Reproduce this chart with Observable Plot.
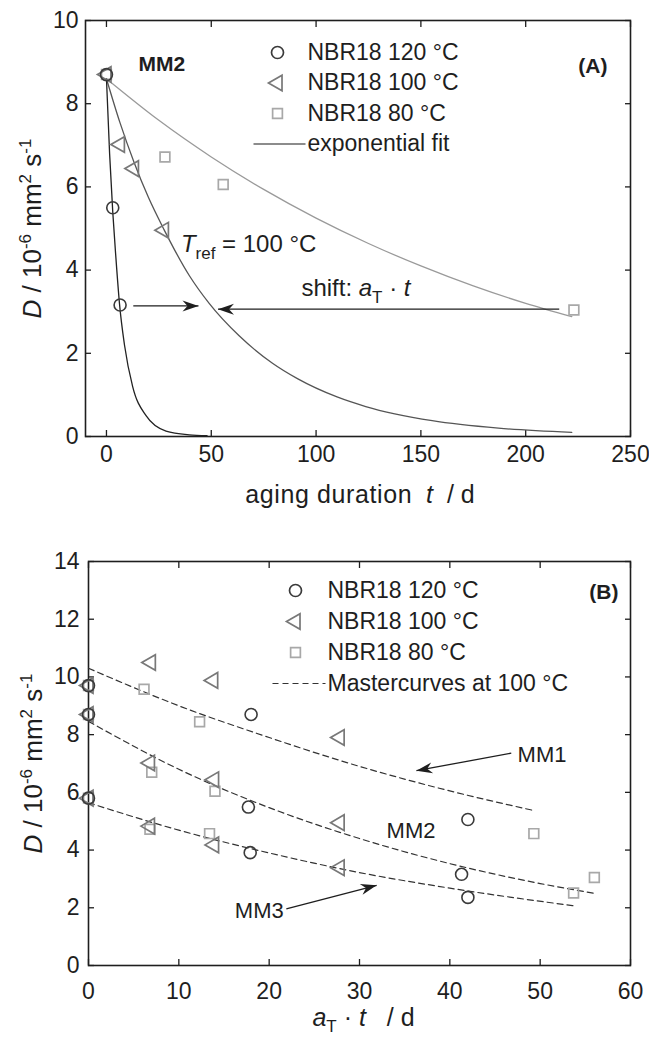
<!DOCTYPE html>
<html><head><meta charset="utf-8">
<script src="https://cdn.jsdelivr.net/npm/d3@7"></script>
<script src="https://cdn.jsdelivr.net/npm/@observablehq/plot@0.6"></script>
<style>
html,body{margin:0;padding:0;background:#fff;}
#chart{width:649px;}
#chart svg{display:block;}
</style></head>
<body><div id="chart"></div>
<script>
// ---------- Panel A: measured points ----------
const tA120 = [0, 3.0, 6.5];
const dA120 = [8.7, 5.5, 3.16];
const tA100 = [0, 6.4, 13.1, 27.4];
const dA100 = [8.7, 7.02, 6.44, 4.96];
const tA80 = [0, 27.9, 55.7, 223];
const dA80 = [8.7, 6.72, 6.06, 3.04];
// exponential fit curves
const fitA120T = [0, 1.5, 3, 4.5, 6.2, 8.6, 12.5, 18.9, 28.4, 39.5, 48];
const fitA120D = [8.6, 6.8, 5.4, 4.3, 3.2, 2.2, 1.2, 0.5, 0.13, 0.04, 0.02];
const fitA100T = [0, 6.4, 13.1, 20, 27.4, 39.5, 49, 63.3, 79.2, 91.1, 110, 123.7, 155.4, 187, 222];
const fitA100D = [8.6, 7.55, 6.6, 5.75, 4.98, 3.87, 3.2, 2.42, 1.76, 1.39, 0.95, 0.72, 0.38, 0.2, 0.1];
const fitA80T = [0, 25, 50, 75, 100, 125, 150, 175, 200, 222];
const fitA80D = [8.6, 7.6, 6.72, 5.94, 5.25, 4.64, 4.1, 3.62, 3.2, 2.88];
const xTicksA = [0, 50, 100, 150, 200, 250];
const yTicksA = [0, 2, 4, 6, 8, 10];
const legendA = ["NBR18 120 °C", "NBR18 100 °C", "NBR18 80 °C", "exponential fit"];
const arrowsA = [
  {x1: 12.8, y1: 3.14, x2: 43.9, y2: 3.14},
  {x1: 216, y1: 3.06, x2: 53.2, y2: 3.06}
];
const labelsA = [
  {x: 35.5, y: 4.63, text: "Tref = 100 °C"},
  {x: 93, y: 3.57, text: "shift: aT · t"}
];

// ---------- Panel B: shifted points ----------
const xB120 = [0, 0, 0, 18.0, 17.7, 17.9, 42.0, 41.3, 42.0];
const dB120 = [9.7, 8.7, 5.8, 8.7, 5.49, 3.91, 5.06, 3.16, 2.36];
const xB100 = [0, 0, 0, 6.9, 13.8, 27.8, 6.8, 13.9, 27.8, 6.8, 13.9, 27.8];
const dB100 = [9.7, 8.7, 5.8, 10.5, 9.88, 7.9, 7.02, 6.44, 4.95, 4.83, 4.18, 3.39];
const xB80 = [0, 0, 0, 6.15, 12.3, 49.3, 7.0, 14.0, 56.0, 6.8, 13.4, 53.7];
const dB80 = [9.7, 8.7, 5.8, 9.57, 8.45, 4.57, 6.70, 6.04, 3.05, 4.72, 4.57, 2.51];
// master curves
const mm1X = [0, 10, 20, 30, 40, 49.3];
const mm1D = [10.3, 9.0, 7.9, 6.9, 6.05, 5.37];
const mm2X = [0, 10, 20, 30, 40, 50, 56];
const mm2D = [8.46, 6.8, 5.47, 4.4, 3.53, 2.84, 2.5];
const mm3X = [0, 10, 20, 30, 40, 53.7];
const mm3D = [5.64, 4.69, 3.9, 3.22, 2.68, 2.07];
const xTicksB = [0, 10, 20, 30, 40, 50, 60];
const yTicksB = [0, 2, 4, 6, 8, 10, 12, 14];
const legendB = ["NBR18 120 °C", "NBR18 100 °C", "NBR18 80 °C", "Mastercurves at 100 °C"];
const arrowsB = [
  {x1: 46.8, y1: 7.36, x2: 36.3, y2: 6.75},
  {x1: 21.9, y1: 1.96, x2: 31.9, y2: 2.78}
];
const labelsB = [
  {x: 47.5, y: 7.3, text: "MM1"},
  {x: 33, y: 4.66, text: "MM2"},
  {x: 16.2, y: 1.88, text: "MM3"}
];

// ---------- styling ----------
const font = "'Liberation Sans', Arial, Helvetica, sans-serif";
const ink = "#1e1e1e";
const c120 = "#3a3a3a", c100 = "#787878", c80 = "#a8a8a8";
const zip = (xs, ys) => xs.map((x, i) => ({x, y: ys[i]}));
const stealth = {draw(ctx) { ctx.moveTo(0, 0); ctx.lineTo(-16, -5.5); ctx.lineTo(-11, 0); ctx.lineTo(-16, 5.5); ctx.closePath(); }};
const hline = (h) => ({draw(ctx) { ctx.moveTo(-h, 0); ctx.lineTo(h, 0); }});

function frameAxes(xTicks, yTicks, xPad, yPad) {
  return [
    Plot.axisX({ticks: xTicks, tickSize: 0, tickPadding: xPad, label: null}),
    Plot.axisY({ticks: yTicks, tickSize: 0, tickPadding: yPad, label: null}),
    Plot.axisX({ticks: xTicks, anchor: "bottom", tickSize: -6, tickFormat: () => "", label: null, strokeWidth: 1.3}),
    Plot.axisX({ticks: xTicks, anchor: "top", tickSize: -6, tickFormat: () => "", label: null, strokeWidth: 1.3}),
    Plot.axisY({ticks: yTicks, anchor: "left", tickSize: -6, tickFormat: () => "", label: null, strokeWidth: 1.3}),
    Plot.axisY({ticks: yTicks, anchor: "right", tickSize: -6, tickFormat: () => "", label: null, strokeWidth: 1.3}),
    Plot.frame({stroke: ink, strokeWidth: 1.6})
  ];
}

function markers(p120, p100, p80) {
  return [
    Plot.dot(p80, {x: "x", y: "y", symbol: "square", r: 5.5, stroke: c80, strokeWidth: 1.7, fill: "none"}),
    Plot.dot(p100, {x: "x", y: "y", symbol: "triangle", rotate: -90, r: 5.8, stroke: c100, strokeWidth: 1.7, fill: "none"}),
    Plot.dot(p120, {x: "x", y: "y", symbol: "circle", r: 6, stroke: c120, strokeWidth: 1.6, fill: "none"})
  ];
}

function legend(labels, sx, tx, y0, step, lastSymbol) {
  const syms = [
    {symbol: "circle", r: 6, stroke: c120},
    {symbol: "triangle", r: 5.8, rotate: -90, stroke: c100},
    {symbol: "square", r: 5.5, stroke: c80}
  ];
  const marks = [];
  syms.forEach((s, i) => marks.push(Plot.dot([0], {frameAnchor: "top-left", dx: sx, dy: y0 + step * i, fill: "none", strokeWidth: 1.7, ...s})));
  marks.push(Plot.dot([0], {frameAnchor: "top-left", fill: "none", dy: y0 + step * 3, ...lastSymbol}));
  labels.forEach((t, i) => marks.push(Plot.text([t], {frameAnchor: "top-left", dx: tx, dy: y0 + step * i, textAnchor: "start", lineAnchor: "middle", fontSize: 23, fill: ink})));
  return marks;
}

function arrows(data, rot) {
  return [
    Plot.link(data, {x1: "x1", y1: "y1", x2: "x2", y2: "y2", stroke: ink, strokeWidth: 1.3}),
    Plot.dot(data, {x: "x2", y: "y2", symbol: stealth, rotate: (d, i) => rot ? rot[i] : 0, fill: ink, stroke: "none"})
  ];
}

function angles(p, data) {
  const sx = p.scale("x"), sy = p.scale("y");
  return data.map(a => Math.atan2(sy.apply(a.y2) - sy.apply(a.y1), sx.apply(a.x2) - sx.apply(a.x1)) * 180 / Math.PI);
}

const baseStyle = {fontFamily: font, fontSize: "23px", color: ink, background: "white", overflow: "visible"};

function plotA(rot) {
  return Plot.plot({
    width: 649, height: 515,
    marginLeft: 85, marginRight: 19, marginTop: 20, marginBottom: 79,
    style: baseStyle,
    x: {domain: [-10, 250]},
    y: {domain: [0, 10]},
    marks: [
      ...frameAxes(xTicksA, yTicksA, 9, 7),
      Plot.line(zip(fitA80T, fitA80D), {x: "x", y: "y", stroke: "#9a9a9a", strokeWidth: 1.3, curve: "monotone-x"}),
      Plot.line(zip(fitA100T, fitA100D), {x: "x", y: "y", stroke: "#555", strokeWidth: 1.3, curve: "monotone-x"}),
      Plot.line(zip(fitA120T, fitA120D), {x: "x", y: "y", stroke: "#222", strokeWidth: 1.3, curve: "monotone-x"}),
      ...markers(zip(tA120, dA120), zip(tA100, dA100), zip(tA80, dA80)),
      ...arrows(arrowsA, rot),
      Plot.text(labelsA, {x: "x", y: "y", text: "text", textAnchor: "start", lineAnchor: "middle", fontSize: 24, fill: ink}),
      ...legend(legendA, 192, 222, 32, 30.5, {dx: 194, symbol: hline(26), stroke: "#666", strokeWidth: 1.3}),
      Plot.text(["MM2"], {frameAnchor: "top-left", dx: 53, dy: 44, textAnchor: "start", lineAnchor: "middle", fontSize: 21, fontWeight: "bold", fill: ink}),
      Plot.text(["(A)"], {frameAnchor: "top-right", dx: -23, dy: 46, textAnchor: "end", lineAnchor: "middle", fontSize: 21, fontWeight: "bold", fill: ink}),
      Plot.text(["aging duration  t  / d"], {frameAnchor: "bottom", dx: 2, dy: 66, textAnchor: "middle", lineAnchor: "bottom", fontSize: 25, fill: ink}),
      Plot.text(["D / 10-6 mm2 s-1"], {frameAnchor: "left", dx: -53, rotate: -90, textAnchor: "middle", lineAnchor: "middle", fontSize: 26, fill: ink})
    ]
  });
}

function plotB(rot) {
  return Plot.plot({
    width: 649, height: 522,
    marginLeft: 88, marginRight: 19, marginTop: 46, marginBottom: 72,
    style: baseStyle,
    x: {domain: [0, 60]},
    y: {domain: [0, 14]},
    marks: [
      ...frameAxes(xTicksB, yTicksB, 17, 9),
      Plot.line(zip(mm1X, mm1D), {x: "x", y: "y", stroke: "#333", strokeWidth: 1.2, strokeDasharray: "6,4", curve: "monotone-x"}),
      Plot.line(zip(mm2X, mm2D), {x: "x", y: "y", stroke: "#333", strokeWidth: 1.2, strokeDasharray: "6,4", curve: "monotone-x"}),
      Plot.line(zip(mm3X, mm3D), {x: "x", y: "y", stroke: "#333", strokeWidth: 1.2, strokeDasharray: "6,4", curve: "monotone-x"}),
      ...markers(zip(xB120, dB120), zip(xB100, dB100), zip(xB80, dB80)),
      ...arrows(arrowsB, rot),
      Plot.text(labelsB, {x: "x", y: "y", text: "text", textAnchor: "start", lineAnchor: "middle", fontSize: 22, fill: ink}),
      ...legend(legendB, 207, 239, 29, 31, {dx: 210.5, symbol: hline(26.5), stroke: "#333", strokeWidth: 1.2, strokeDasharray: "6,4"}),
      Plot.text(["(B)"], {frameAnchor: "top-right", dx: -12, dy: 31, textAnchor: "end", lineAnchor: "middle", fontSize: 21, fontWeight: "bold", fill: ink}),
      Plot.text(["aT · t / d"], {frameAnchor: "bottom", dx: 4, dy: 60, textAnchor: "middle", lineAnchor: "bottom", fontSize: 25, fill: ink}),
      Plot.text(["D / 10-6 mm2 s-1"], {frameAnchor: "left", dx: -55, rotate: -90, textAnchor: "middle", lineAnchor: "middle", fontSize: 26, fill: ink})
    ]
  });
}

const rich = {
  "D / 10-6 mm2 s-1": '<tspan font-style="italic">D</tspan> / 10<tspan dy="-10" font-size="17">-6</tspan><tspan dy="10"> mm</tspan><tspan dy="-10" font-size="17">2</tspan><tspan dy="10"> s</tspan><tspan dy="-10" font-size="17">-1</tspan>',
  "aging duration  t  / d": '<tspan letter-spacing="0.6">aging duration</tspan>&#160;&#160;<tspan font-style="italic">t</tspan>&#160;&#160;/ d',
  "aT · t / d": '<tspan font-style="italic">a</tspan><tspan dy="6" font-size="17">T</tspan><tspan dy="-6"> · </tspan><tspan font-style="italic">t</tspan>&#160;&#160; / d',
  "Tref = 100 °C": '<tspan font-style="italic">T</tspan><tspan dy="7" font-size="17">ref</tspan><tspan dy="-7"> = 100 °C</tspan>',
  "shift: aT · t": 'shift: <tspan font-style="italic">a</tspan><tspan dy="7" font-size="17">T</tspan><tspan dy="-7"> · </tspan><tspan font-style="italic">t</tspan>'
};
function enrich(svg) {
  svg.querySelectorAll("text").forEach(t => {
    const k = t.textContent;
    if (rich[k] !== undefined) t.innerHTML = rich[k];
  });
  return svg;
}

const chart = document.getElementById("chart");
const a0 = plotA(null);
const svgA = enrich(plotA(angles(a0, arrowsA)));
const b0 = plotB(null);
const svgB = enrich(plotB(angles(b0, arrowsB)));
chart.appendChild(svgA);
chart.appendChild(svgB);
</script>
</body></html>
